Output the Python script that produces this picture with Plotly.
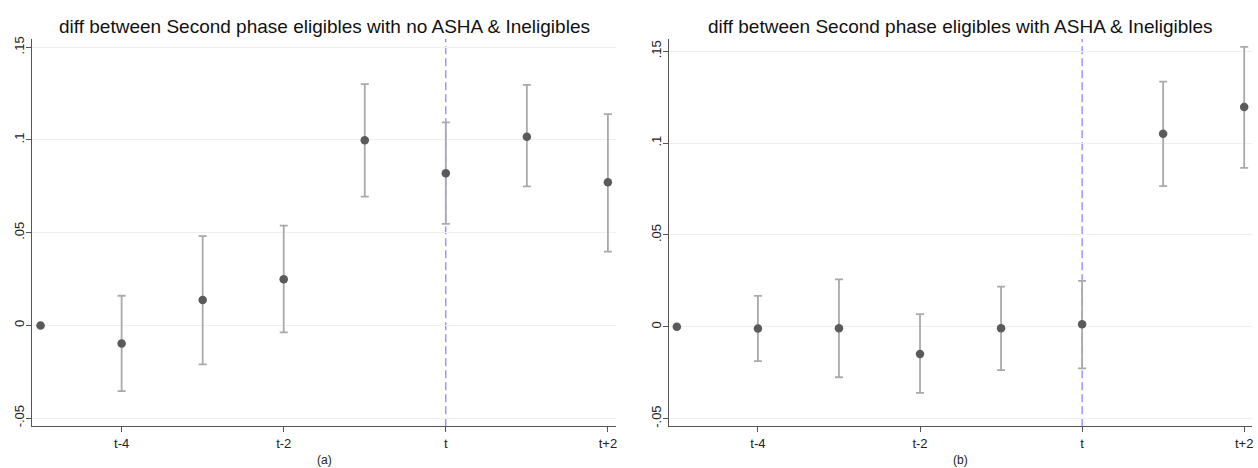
import plotly.graph_objects as go

# ---- data ----
periods = [-5, -4, -3, -2, -1, 0, 1, 2]
x_tick_vals = [-4, -2, 0, 2]
x_tick_text = ["t-4", "t-2", "t", "t+2"]
y_tick_vals = [-0.05, 0, 0.05, 0.1, 0.15]
y_tick_text = ["-.05", "0", ".05", ".1", ".15"]

title_a = "diff between Second phase eligibles with no ASHA & Ineligibles"
coef_a = [0, -0.0097, 0.0137, 0.0249, 0.0998, 0.0821, 0.1018, 0.0772]
lo_a = [0, -0.0355, -0.0210, -0.0038, 0.0695, 0.0548, 0.0750, 0.0398]
hi_a = [0, 0.0160, 0.0481, 0.0538, 0.1301, 0.1095, 0.1297, 0.1139]

title_b = "diff between Second phase eligibles with ASHA & Ineligibles"
coef_b = [0, -0.0010, -0.0008, -0.0148, -0.0008, 0.0014, 0.1051, 0.1197]
lo_b = [0, -0.0187, -0.0275, -0.0360, -0.0236, -0.0227, 0.0766, 0.0865]
hi_b = [0, 0.0168, 0.0258, 0.0069, 0.0218, 0.0250, 0.1335, 0.1524]

W, H = 1258, 468
FONT = "Liberation Sans, Arial, sans-serif"
MARK = "#5a5a5a"
BAR = "#a9a9a9"
AX = "#555555"

fig = go.Figure()

def add_panel(coef, lo, hi, xa, ya):
    up = [h - c for h, c in zip(hi, coef)]
    dn = [c - l for c, l in zip(coef, lo)]
    fig.add_trace(go.Scatter(
        x=periods, y=coef, mode="markers", xaxis=xa, yaxis=ya,
        marker=dict(size=8.5, color=MARK, line=dict(width=0)),
        error_y=dict(type="data", symmetric=False, array=up, arrayminus=dn,
                     color=BAR, thickness=1.8, width=4),
        showlegend=False, hoverinfo="x+y"))

add_panel(coef_a, lo_a, hi_a, "x", "y")
add_panel(coef_b, lo_b, hi_b, "x2", "y2")

yb, yt = 1 - 427 / H, 1 - 37 / H
dom_a = [32.5 / W, 616.5 / W]
dom_b = [669.3 / W, 1253.3 / W]

xcommon = dict(range=[-5.1, 2.1], tickvals=x_tick_vals, ticktext=x_tick_text,
               showline=True, linecolor=AX, linewidth=1, ticks="outside",
               ticklen=5, tickcolor=AX, showgrid=False, zeroline=False,
               tickfont=dict(size=13, color="#222"))
ycommon = dict(tickvals=y_tick_vals, ticktext=y_tick_text, tickangle=-90,
               showline=True, linecolor=AX, linewidth=1, ticks="outside",
               ticklen=5, tickcolor=AX, showgrid=True, gridcolor="#efefef",
               gridwidth=1, zeroline=False, ticklabelstandoff=-3,
               tickfont=dict(size=13, color="#222"))

fig.update_layout(
    width=W, height=H, margin=dict(l=0, r=0, t=0, b=0),
    paper_bgcolor="white", plot_bgcolor="white",
    font=dict(family=FONT, color="#222"),
    xaxis=dict(domain=dom_a, anchor="y", **xcommon),
    yaxis=dict(domain=[yb, yt], anchor="x", range=[-0.0544, 0.1546], **ycommon),
    xaxis2=dict(domain=dom_b, anchor="y2", **xcommon),
    yaxis2=dict(domain=[yb, yt], anchor="x2", range=[-0.0542, 0.1568], **ycommon),
)

for xa in ("x", "x2"):
    fig.add_shape(type="line", xref=xa, yref=("y" if xa == "x" else "y2") + " domain",
                  x0=0, x1=0, y0=0, y1=1, layer="below",
                  line=dict(color="#6666ff", width=1, dash="8px,4px"))

for txt, dom in ((title_a, dom_a), (title_b, dom_b)):
    fig.add_annotation(text=txt, xref="paper", yref="paper",
                       x=(dom[0] + dom[1]) / 2, y=1 - 25 / H, showarrow=False,
                       xanchor="center", yanchor="middle",
                       font=dict(size=19, color="#111"))

for txt, dom in (("(a)", dom_a), ("(b)", dom_b)):
    fig.add_annotation(text=txt, xref="paper", yref="paper",
                       x=(dom[0] + dom[1]) / 2, y=1 - 461 / H, showarrow=False,
                       xanchor="center", yanchor="middle",
                       font=dict(size=12, color="#222"))

fig.write_html("out.html")
